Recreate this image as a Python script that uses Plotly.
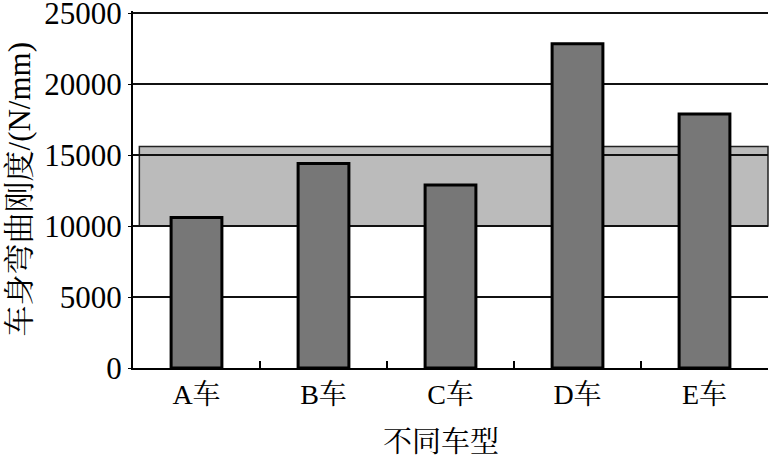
import plotly.graph_objects as go

categories = ["A车", "B车", "C车", "D车", "E车"]
stiffness = [10600, 14400, 12900, 22850, 17900]
band_low = 10000
band_high = 15600
y_ticks = [0, 5000, 10000, 15000, 20000, 25000]
x_title = "不同车型"
y_title = "车身弯曲刚度/(N/mm)"

FONT = "Liberation Serif, Times New Roman, Noto Serif CJK SC, Noto Sans CJK SC, serif"

fig = go.Figure()
fig.add_trace(go.Bar(
    x=categories, y=stiffness, width=0.4,
    marker=dict(color="#777777", line=dict(color="#000000", width=3)),
    cliponaxis=False,
))

fig.add_shape(type="rect", xref="paper", yref="y",
              x0=0.01, x1=1.0, y0=band_low, y1=band_high,
              fillcolor="#bbbbbb", line=dict(color="#222222", width=1.5),
              layer="below")

fig.add_annotation(text=y_title, xref="paper", yref="paper", x=-0.178, y=0.5,
                   xanchor="center", yanchor="middle", textangle=-90, showarrow=False,
                   font=dict(size=31, family=FONT, color="#000000"))
fig.add_annotation(text=x_title, xref="paper", yref="paper", x=0.485, y=-0.208,
                   xanchor="center", yanchor="middle", showarrow=False,
                   font=dict(size=29, family=FONT, color="#000000"))

fig.update_layout(
    width=769, height=463,
    margin=dict(l=133, r=1, t=11, b=95, autoexpand=False),
    plot_bgcolor="white", paper_bgcolor="white",
    showlegend=False,
    font=dict(family=FONT, color="#000000"),
    xaxis=dict(
        automargin=False,
        showline=True, linecolor="#000000", linewidth=2,
        ticks="inside", tickson="boundaries", ticklen=7, tickwidth=1.5, tickcolor="#000000",
        tickfont=dict(size=28, family=FONT),
        showgrid=False,
    ),
    yaxis=dict(
        automargin=False,
        range=[0, 25150], tickvals=y_ticks, tickformat="d",
        ticklabeloverflow="allow",
        showline=True, linecolor="#000000", linewidth=2,
        ticks="outside", ticklen=3, tickcolor="#000000",
        showgrid=True, gridcolor="#111111", gridwidth=1.8,
        tickfont=dict(size=31, family=FONT),
        zeroline=False,
    ),
)

fig.write_html("out.html", config={"displayModeBar": False},
               post_script="document.body.style.margin='0';document.body.style.overflow='hidden';")
